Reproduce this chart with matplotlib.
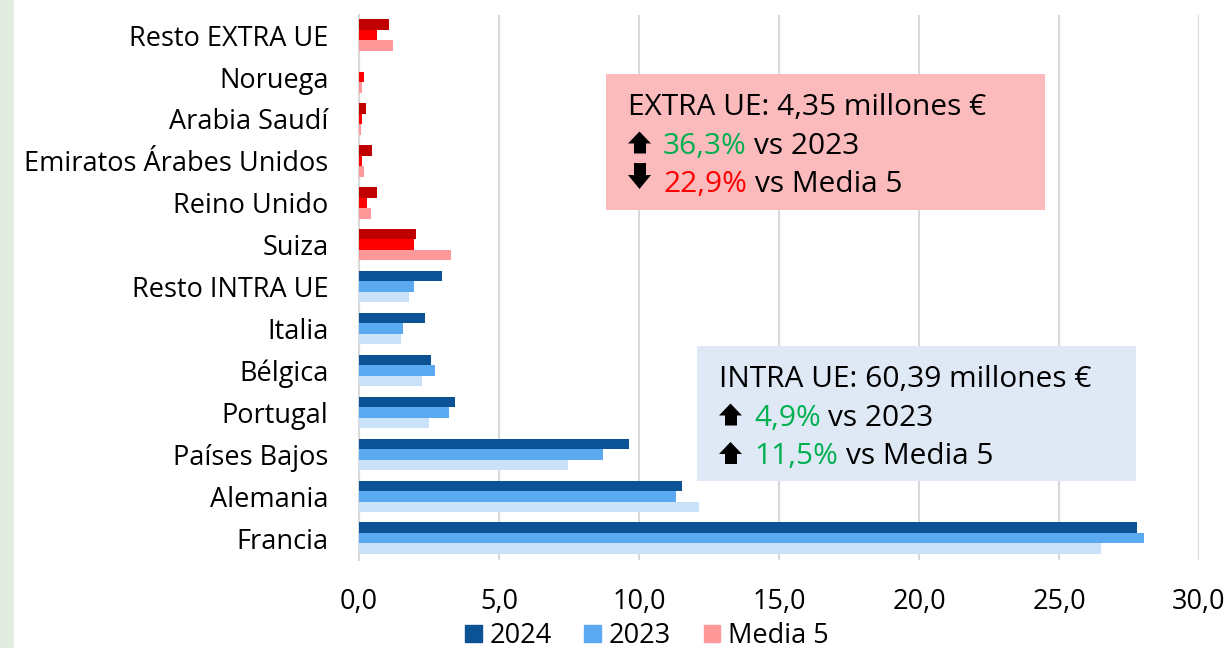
import matplotlib
matplotlib.use("Agg")
import matplotlib.pyplot as plt
from matplotlib.patches import Rectangle, Patch, Polygon
from matplotlib.ticker import FuncFormatter, MultipleLocator

plt.rcParams['font.family'] = ['Open Sans', 'DejaVu Sans']

# countries, bottom to top
countries = ["Francia", "Alemania", "Países Bajos", "Portugal", "Bélgica", "Italia",
             "Resto INTRA UE", "Suiza", "Reino Unido", "Emiratos Árabes Unidos",
             "Arabia Saudí", "Noruega", "Resto EXTRA UE"]
v2024 = [27.79, 11.52, 9.65, 3.44, 2.58, 2.35, 2.98, 2.03, 0.64, 0.46, 0.25, 0.0, 1.07]
v2023 = [28.04, 11.32, 8.70, 3.20, 2.73, 1.58, 1.95, 1.96, 0.29, 0.10, 0.10, 0.17, 0.64]
media5 = [26.51, 12.14, 7.46, 2.50, 2.25, 1.50, 1.78, 3.29, 0.43, 0.19, 0.07, 0.10, 1.21]
n_intra = 7

blue = ["#0B5394", "#5BA9F0", "#C9E2FA"]
red = ["#C00000", "#FF0000", "#FF9999"]

W, H = 1225, 648
fig = plt.figure(figsize=(W / 100, H / 100), dpi=100)
ax = fig.add_axes([359 / W, 1 - 560 / H, (1199 - 359) / W, (560 - 15) / H])

h = 0.25
for i, name in enumerate(countries):
    cols = blue if i < n_intra else red
    ax.barh(i + h, v2024[i], height=h, color=cols[0], zorder=3)
    ax.barh(i, v2023[i], height=h, color=cols[1], zorder=3)
    ax.barh(i - h, media5[i], height=h, color=cols[2], zorder=3)

ax.set_yticks(range(len(countries)))
ax.set_yticklabels(countries, fontsize=19.5)
ax.set_ylim(-0.52, 12.48)
ax.set_xlim(0, 30)
ax.xaxis.set_major_locator(MultipleLocator(5))
ax.xaxis.set_major_formatter(FuncFormatter(lambda v, p: f"{v:.1f}".replace(".", ",")))
ax.tick_params(axis='x', labelsize=19.5, length=0, pad=20)
ax.tick_params(axis='y', length=0, pad=22)
ax.grid(axis='x', color="#D9D9D9", linewidth=1.5, zorder=0)
for s in ["top", "right", "bottom"]:
    ax.spines[s].set_visible(False)
ax.spines["left"].set_color("#D9D9D9")
ax.spines["left"].set_linewidth(1.5)

# green band on the left edge
fig.patches.append(Rectangle((0, 0), 14 / W, 1, transform=fig.transFigure,
                             facecolor="#E3ECE0", edgecolor="none", zorder=0))

# legend
handles = [Patch(color=blue[0]), Patch(color=blue[1]), Patch(color=red[2])]
fig.legend(handles, ["2024", "2023", "Media 5"], loc="center", ncol=3,
           bbox_to_anchor=(647 / W, 1 - 636 / H), frameon=False, fontsize=19.5,
           handlelength=0.6, handleheight=0.6, handletextpad=0.3, columnspacing=1.2,
           borderpad=0)

fig.canvas.draw()
renderer = fig.canvas.get_renderer()


def block_arrow(x, base, up=True):
    # block arrow drawn in pixel units next to the text baseline
    if up:
        pts = [(6, 0), (18, 0), (18, 10), (23, 10), (11.5, 22), (0, 10), (6, 10)]
        pts = [(x + px, base - py) for px, py in pts]
    else:
        pts = [(6, 0), (18, 0), (18, 12), (23, 12), (11.5, 26), (0, 12), (6, 12)]
        pts = [(x + px, base - 29 + py) for px, py in pts]
    poly = Polygon([(px / W, 1 - py / H) for px, py in pts], closed=True,
                   transform=fig.transFigure, facecolor="black", edgecolor="none", zorder=6)
    fig.patches.append(poly)


def text_width(s, size):
    t = fig.text(0, 0, s, fontsize=size)
    w = t.get_window_extent(renderer).width
    t.remove()
    return w


def colored_line(x, y, parts, size):
    sp = text_width("x x", size) - text_width("xx", size)
    for txt, color in parts:
        if txt in ("up", "down"):
            block_arrow(x, y, up=(txt == "up"))
            x += 35
            continue
        lead = len(txt) - len(txt.lstrip(" "))
        x += lead * sp
        body = txt.strip(" ")
        t = fig.text(x / W, 1 - y / H, body, color=color, fontsize=size, va="baseline", zorder=6)
        x += t.get_window_extent(renderer).width


green = "#00B050"
boxes = [
    (606, 74, 1045, 210, "#FBBBBC", [
        [("EXTRA UE: 4,35 millones €", "black")],
        [("up", "black"), ("36,3%", green), (" vs 2023", "black")],
        [("down", "black"), ("22,9%", "#FF0000"), (" vs Media 5", "black")],
    ]),
    (697, 346, 1136, 481, "#DEE9F5", [
        [("INTRA UE: 60,39 millones €", "black")],
        [("up", "black"), ("4,9%", green), (" vs 2023", "black")],
        [("up", "black"), ("11,5%", green), (" vs Media 5", "black")],
    ]),
]
for x0, y0, x1, y1, fc, lines in boxes:
    fig.patches.append(Rectangle((x0 / W, 1 - y1 / H), (x1 - x0) / W, (y1 - y0) / H,
                                 transform=fig.transFigure, facecolor=fc,
                                 edgecolor="none", zorder=5))
    for k, parts in enumerate(lines):
        colored_line(x0 + 22, y0 + 41 + k * 38.5, parts, 21.5)

fig.savefig("out.png", dpi=100)
